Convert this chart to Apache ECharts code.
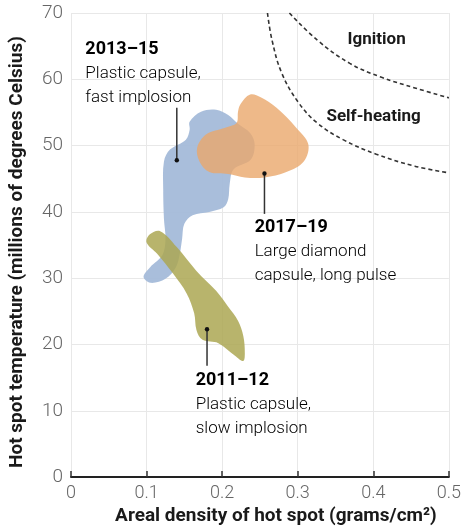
<!DOCTYPE html>
<html>
<head>
<meta charset="utf-8">
<script src="https://cdn.jsdelivr.net/npm/echarts@6/dist/echarts.min.js"></script>
<style>
  html, body { margin: 0; padding: 0; background: #fff; }
  #main { width: 464px; height: 531px; }
</style>
</head>
<body>
<div id="main"></div>
<script>
// outlines of the three regions, [areal density, temperature]
var shape2013 = [
  [0.157, 53.6], [0.172, 55.1], [0.192, 55.4], [0.208, 54.6], [0.221, 53.3],
  [0.237, 51.9], [0.243, 50.2], [0.238, 47.9], [0.215, 46.4], [0.210, 44.2],
  [0.208, 41.9], [0.202, 40.7], [0.183, 40.0], [0.161, 39.5], [0.150, 38.2],
  [0.147, 35.9], [0.144, 33.7], [0.139, 31.7], [0.125, 29.9], [0.105, 29.3],
  [0.096, 30.2], [0.105, 31.7], [0.121, 33.5], [0.125, 35.9], [0.123, 38.9],
  [0.122, 43.4], [0.123, 47.6], [0.131, 49.4], [0.152, 50.9], [0.157, 52.4]
];
var shape2017 = [
  [0.224, 56.2], [0.237, 57.7], [0.251, 57.3], [0.272, 55.7], [0.298, 52.7],
  [0.314, 50.2], [0.308, 47.6], [0.285, 46.0], [0.256, 45.2], [0.230, 45.2],
  [0.208, 45.7], [0.183, 46.0], [0.170, 47.6], [0.167, 49.7], [0.179, 51.7],
  [0.204, 52.7], [0.219, 53.4], [0.221, 55.1]
];
var shape2011 = [
  [0.104, 36.6], [0.118, 37.1], [0.140, 34.7], [0.166, 31.1], [0.192, 28.1],
  [0.208, 25.7], [0.221, 23.6], [0.228, 21.3], [0.230, 18.7], [0.228, 17.5],
  [0.217, 18.3], [0.195, 20.2], [0.174, 20.7], [0.166, 22.2], [0.163, 24.7],
  [0.153, 27.7], [0.135, 30.7], [0.114, 33.7], [0.100, 35.4]
];

// boundary curves
var ignitionCurve = [
  [0.289, 70], [0.326, 65.9], [0.369, 62.4], [0.411, 60.3], [0.455, 58.7], [0.5, 57.2]
];
var selfHeatingCurve = [
  [0.260, 70], [0.266, 65.9], [0.279, 60.9], [0.301, 56.5], [0.326, 53.4],
  [0.360, 50.9], [0.404, 48.7], [0.455, 46.9], [0.5, 45.9]
];

// pointers: [x, dot y, end y]
var pointers = [
  [0.140, 47.8, 55.7],
  [0.256, 45.8, 39.7],
  [0.180, 22.3, 16.8]
];

// annotation text anchors and text
var notePos = [[0.019, 66.4], [0.243, 39.6], [0.165, 16.5]];
var noteTitles = ['2013–15', '2017–19', '2011–12'];
var noteLines = [
  ['Plastic capsule,', 'fast implosion'],
  ['Large diamond', 'capsule, long pulse'],
  ['Plastic capsule,', 'slow implosion']
];
var zonePos = [[0.366, 67.3], [0.338, 55.6]];
var zoneNames = ['Ignition', 'Self-heating'];

var chart = echarts.init(document.getElementById('main'));
var font = 'Roboto';

function region(pts, color, z) {
  return {
    type: 'custom',
    coordinateSystem: 'cartesian2d',
    silent: true,
    z: z,
    data: [pts[0]],
    renderItem: function (params, api) {
      return {
        type: 'polygon',
        shape: { points: pts.map(function (p) { return api.coord(p); }), smooth: 0.35 },
        style: { fill: color }
      };
    }
  };
}

function curve(pts) {
  return {
    type: 'line',
    data: pts,
    smooth: 0.4,
    symbol: 'none',
    silent: true,
    z: 5,
    lineStyle: { color: '#333', width: 1.6, type: [4, 3] }
  };
}

var option = {
  animation: false,
  backgroundColor: '#fff',
  grid: { left: 68, right: 7, top: 13, bottom: 51 },
  xAxis: {
    type: 'value',
    min: 0, max: 0.5, interval: 0.1,
    name: 'Areal density of hot spot (grams/cm²)',
    nameLocation: 'middle',
    nameGap: 27,
    nameTextStyle: {
      fontFamily: font, fontWeight: 'bold', fontSize: 19, color: '#1a1a1a',
      padding: [0, 0, 0, 32]
    },
    axisLine: { show: true, lineStyle: { color: '#222', width: 2 } },
    axisTick: { show: true, inside: true, length: 6, lineStyle: { color: '#333', width: 1.5 } },
    axisLabel: {
      margin: 7, fontFamily: font, fontWeight: 300, fontSize: 18, color: '#666',
      formatter: function (v) { return v === 0 ? '0' : v.toFixed(1); }
    },
    splitLine: { show: true, lineStyle: { color: '#e8e8e8', width: 1 } }
  },
  yAxis: {
    type: 'value',
    min: 0, max: 70, interval: 10,
    name: 'Hot spot temperature (millions of degrees Celsius)',
    nameLocation: 'middle',
    nameGap: 44,
    nameTextStyle: {
      fontFamily: font, fontWeight: 'bold', fontSize: 19, color: '#1a1a1a',
      padding: [0, 14, 0, 0]
    },
    axisLine: { show: false },
    axisTick: { show: false },
    axisLabel: { margin: 8, fontFamily: font, fontWeight: 300, fontSize: 19, color: '#666' },
    splitLine: { show: true, lineStyle: { color: '#e8e8e8', width: 1 } }
  },
  series: [
    region(shape2013, 'rgba(164,186,217,0.95)', 2),
    region(shape2011, 'rgba(172,167,82,0.85)', 3),
    region(shape2017, 'rgba(234,168,108,0.8)', 4),
    curve(ignitionCurve),
    curve(selfHeatingCurve),
    {
      type: 'custom',
      coordinateSystem: 'cartesian2d',
      silent: true,
      z: 6,
      data: pointers,
      renderItem: function (params, api) {
        var dot = api.coord([api.value(0), api.value(1)]);
        var end = api.coord([api.value(0), api.value(2)]);
        return {
          type: 'group',
          children: [
            { type: 'line', shape: { x1: dot[0], y1: dot[1], x2: end[0], y2: end[1] },
              style: { stroke: '#333', lineWidth: 1.5 } },
            { type: 'circle', shape: { cx: dot[0], cy: dot[1], r: 2.2 }, style: { fill: '#111' } }
          ]
        };
      }
    },
    {
      type: 'custom',
      coordinateSystem: 'cartesian2d',
      silent: true,
      z: 7,
      data: notePos,
      renderItem: function (params, api) {
        var i = params.dataIndex;
        var p = api.coord([api.value(0), api.value(1)]);
        return {
          type: 'text',
          x: p[0], y: p[1],
          style: {
            text: '{t|' + noteTitles[i] + '}\n{n|' + noteLines[i][0] + '}\n{n|' + noteLines[i][1] + '}',
            align: 'left', verticalAlign: 'top',
            rich: {
              t: { fontFamily: font, fontWeight: 'bold', fontSize: 18, color: '#1a1a1a', lineHeight: 25 },
              n: { fontFamily: font, fontWeight: 300, fontSize: 17, color: '#555', lineHeight: 24 }
            }
          }
        };
      }
    },
    {
      type: 'custom',
      coordinateSystem: 'cartesian2d',
      silent: true,
      z: 7,
      data: zonePos,
      renderItem: function (params, api) {
        var p = api.coord([api.value(0), api.value(1)]);
        return {
          type: 'text',
          x: p[0], y: p[1],
          style: {
            text: zoneNames[params.dataIndex],
            align: 'left', verticalAlign: 'top',
            fontFamily: font, fontWeight: 'bold', fontSize: 17, fill: '#1a1a1a'
          }
        };
      }
    }
  ]
};

chart.setOption(option);
</script>
</body>
</html>
